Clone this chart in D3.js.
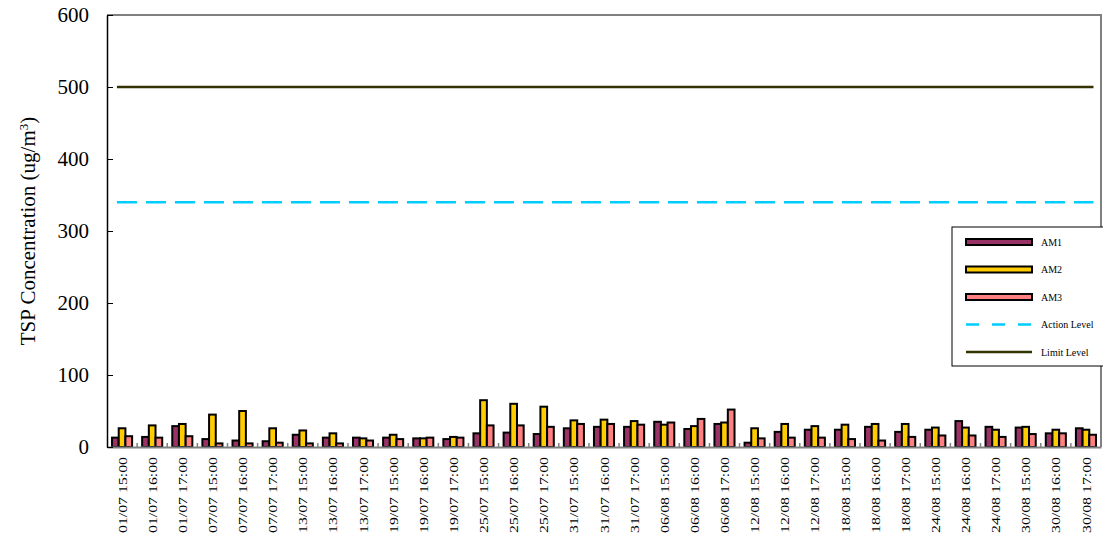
<!DOCTYPE html>
<html>
<head>
<meta charset="utf-8">
<script src="https://cdn.jsdelivr.net/npm/d3@7"></script>
<style>
  body { margin: 0; background: #fff; }
  text { font-family: "Liberation Serif", "Times New Roman", serif; }
</style>
</head>
<body>
<div id="chart"></div>
<script>
// categories and readings (ug/m3)
var categories = ["01/07 15:00", "01/07 16:00", "01/07 17:00", "07/07 15:00", "07/07 16:00", "07/07 17:00",
    "13/07 15:00", "13/07 16:00", "13/07 17:00", "19/07 15:00", "19/07 16:00", "19/07 17:00",
    "25/07 15:00", "25/07 16:00", "25/07 17:00", "31/07 15:00", "31/07 16:00", "31/07 17:00",
    "06/08 15:00", "06/08 16:00", "06/08 17:00", "12/08 15:00", "12/08 16:00", "12/08 17:00",
    "18/08 15:00", "18/08 16:00", "18/08 17:00", "24/08 15:00", "24/08 16:00", "24/08 17:00",
    "30/08 15:00", "30/08 16:00", "30/08 17:00"];
var am1 = [13, 14, 29, 11, 9, 8, 17, 13, 13, 13, 12, 11, 19, 20, 18, 26, 28, 28, 35, 25, 32, 6, 21, 24, 24, 28, 21, 24, 36, 28, 27, 19, 26];
var am2 = [26, 30, 32, 45, 50, 26, 23, 19, 12, 17, 12, 14, 65, 60, 56, 37, 38, 36, 31, 29, 34, 26, 32, 29, 31, 32, 32, 27, 27, 24, 28, 24, 24];
var am3 = [15, 13, 15, 5, 5, 6, 5, 5, 9, 11, 13, 13, 30, 30, 28, 32, 32, 31, 34, 39, 52, 12, 13, 13, 11, 9, 14, 16, 16, 14, 18, 19, 17];
var actionLevel = 340;
var limitLevel = 500;
var yTicks = [0, 100, 200, 300, 400, 500, 600];

var seriesNames = ["AM1", "AM2", "AM3"];
var seriesColors = { AM1: "#993366", AM2: "#FFCC00", AM3: "#FF8080" };
var serif = "'Liberation Serif', 'Times New Roman', serif";

var margin = { top: 15, right: 2, bottom: 95, left: 107 },
    width = 1103 - margin.left - margin.right,
    height = 542 - margin.top - margin.bottom;

var svg = d3.select("#chart")
    .append("svg")
    .attr("width", 1103)
    .attr("height", 542)
    .append("g")
    .attr("transform", "translate(" + margin.left + "," + margin.top + ")");

var x = d3.scaleBand().domain(categories).range([0, width]).padding(0);
var xs = d3.scaleBand().domain(seriesNames).range([0, x.bandwidth()]).paddingInner(0).paddingOuter(0.75);
var y = d3.scaleLinear().domain([0, 600]).range([height, 0]);

// plot frame (top / right)
svg.append("path")
    .attr("d", "M0,0H" + width + "V" + height)
    .attr("fill", "none")
    .attr("stroke", "#808080")
    .attr("stroke-width", 2);

// bars
var rows = categories.map(function (c, i) { return { cat: c, AM1: am1[i], AM2: am2[i], AM3: am3[i] }; });
var groups = svg.append("g").selectAll("g")
    .data(rows)
    .enter().append("g")
    .attr("transform", function (d) { return "translate(" + x(d.cat) + ",0)"; });
groups.selectAll("rect")
    .data(function (d) { return seriesNames.map(function (s) { return { s: s, v: d[s] }; }); })
    .enter().append("rect")
    .attr("x", function (d) { return xs(d.s); })
    .attr("width", xs.bandwidth())
    .attr("y", function (d) { return y(d.v); })
    .attr("height", function (d) { return height - y(d.v); })
    .attr("fill", function (d) { return seriesColors[d.s]; })
    .attr("stroke", "#000")
    .attr("stroke-width", 2);

// level lines
var lx1 = x(categories[0]) + x.step() * 0.33,
    lx2 = x(categories[categories.length - 1]) + x.step() * 0.75;
svg.append("line")
    .attr("x1", lx1).attr("x2", lx2)
    .attr("y1", y(actionLevel)).attr("y2", y(actionLevel))
    .attr("stroke", "#00CCFF").attr("stroke-width", 2.5)
    .attr("stroke-dasharray", "20,9");
svg.append("line")
    .attr("x1", lx1).attr("x2", lx2)
    .attr("y1", y(limitLevel)).attr("y2", y(limitLevel))
    .attr("stroke", "#333300").attr("stroke-width", 2.5);

// X axis
var xAxis = svg.append("g")
    .attr("transform", "translate(0," + height + ")")
    .call(d3.axisBottom(x).tickSize(0).tickPadding(10));
xAxis.select(".domain").attr("stroke", "#808080").attr("stroke-width", 2);
xAxis.selectAll("text")
    .attr("transform", "rotate(-90)")
    .attr("text-anchor", "end")
    .attr("x", -10)
    .attr("y", 0)
    .attr("dy", "0.35em")
    .attr("textLength", 76)
    .attr("lengthAdjust", "spacingAndGlyphs")
    .style("font-size", "13px")
    .style("font-family", serif)
    .attr("fill", "#000");
// small boundary ticks
svg.append("g").selectAll("line")
    .data(categories.slice(1))
    .enter().append("line")
    .attr("x1", function (d) { return x(d); })
    .attr("x2", function (d) { return x(d); })
    .attr("y1", height - 4)
    .attr("y2", height)
    .attr("stroke", "#808080")
    .attr("stroke-width", 1.5);

// Y axis
var yAxis = svg.append("g")
    .call(d3.axisLeft(y).tickValues(yTicks).tickSizeInner(-6).tickSizeOuter(0).tickPadding(18));
yAxis.select(".domain").attr("stroke", "#000").attr("stroke-width", 1.5);
yAxis.selectAll(".tick line").attr("stroke", "#000");
yAxis.selectAll("text")
    .style("font-size", "21px")
    .style("font-family", serif)
    .attr("fill", "#000");

// Y title
var yTitle = svg.append("text")
    .attr("transform", "translate(" + (-72) + "," + (height / 2) + ") rotate(-90)")
    .attr("text-anchor", "middle")
    .style("font-size", "21px")
    .style("font-family", serif)
    .attr("fill", "#000");
yTitle.append("tspan").text("TSP Concentration (ug/m");
yTitle.append("tspan").attr("baseline-shift", "super").style("font-size", "13px").text("3");
yTitle.append("tspan").text(")");

// legend
var legend = svg.append("g")
    .attr("transform", "translate(" + (952 - margin.left) + "," + (227 - margin.top) + ")");
legend.append("rect")
    .attr("width", 160).attr("height", 139)
    .attr("fill", "#fff")
    .attr("stroke", "#000")
    .attr("stroke-width", 1);
var legendItems = [
    { name: "AM1", type: "bar" },
    { name: "AM2", type: "bar" },
    { name: "AM3", type: "bar" },
    { name: "Action Level", type: "dash" },
    { name: "Limit Level", type: "line" }
];
var li = legend.selectAll(".li")
    .data(legendItems)
    .enter().append("g")
    .attr("transform", function (d, i) { return "translate(0," + (15 + i * 27.5) + ")"; });
li.each(function (d) {
    var g = d3.select(this);
    if (d.type === "bar") {
        g.append("rect").attr("x", 14).attr("y", -3).attr("width", 66).attr("height", 6)
            .attr("fill", seriesColors[d.name]).attr("stroke", "#000").attr("stroke-width", 2);
    } else if (d.type === "dash") {
        g.append("line").attr("x1", 14).attr("x2", 80).attr("y1", 0).attr("y2", 0)
            .attr("stroke", "#00CCFF").attr("stroke-width", 2.5).attr("stroke-dasharray", "13,13");
    } else {
        g.append("line").attr("x1", 14).attr("x2", 80).attr("y1", 0).attr("y2", 0)
            .attr("stroke", "#333300").attr("stroke-width", 2.5);
    }
    g.append("text").attr("x", 89).attr("y", 0).attr("dy", "0.35em")
        .style("font-size", "10px").style("font-family", serif)
        .attr("fill", "#000").text(d.name);
});
</script>
</body>
</html>
